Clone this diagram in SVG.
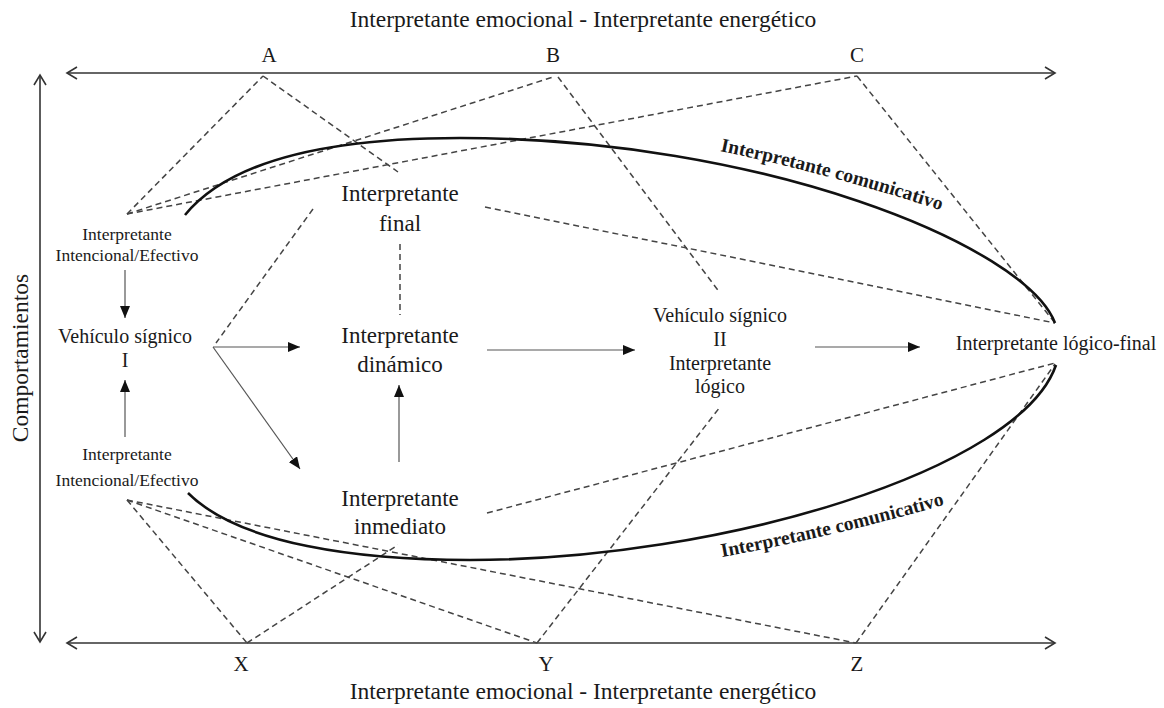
<svg xmlns="http://www.w3.org/2000/svg" xmlns:xlink="http://www.w3.org/1999/xlink" width="1164" height="708" viewBox="0 0 1164 708">
<style>
text{font-family:"Liberation Serif","Times New Roman",serif;fill:#1a1a1a;}
.big{font-size:23px;}
.ttl{font-size:23.5px;}
.mid{font-size:20px;}
.sm{font-size:17.5px;}
.lbl{font-size:21px;}
.bold{font-size:19.5px;font-weight:bold;}
.axis{stroke:#333;stroke-width:1.6;fill:none;}
.dash{stroke:#444;stroke-width:1.5;stroke-dasharray:6 4;fill:none;}
.arr{stroke:#555;stroke-width:1.2;fill:none;marker-end:url(#tri);}
.curve{stroke:#111;stroke-width:2.6;fill:none;}
</style>
<defs>
<marker id="tri" markerWidth="12" markerHeight="10" refX="12" refY="5" orient="auto" markerUnits="userSpaceOnUse">
<path d="M0,0 L12,5 L0,10 Z" fill="#111"/>
</marker>
<marker id="chev" markerWidth="14" markerHeight="14" refX="11" refY="7" orient="auto-start-reverse" markerUnits="userSpaceOnUse">
<path d="M1,1 L11,7 L1,13" fill="none" stroke="#333" stroke-width="1.6"/>
</marker>
<path id="tp1" d="M720,151 Q835,175 952,214"/>
<path id="tp2" d="M722,557 Q837,536 954,502"/>
</defs>
<rect width="1164" height="708" fill="#fff"/>

<g id="axes">
<line class="axis" x1="67" y1="73" x2="1055" y2="73" marker-start="url(#chev)" marker-end="url(#chev)"/>
<line class="axis" x1="67" y1="643" x2="1055" y2="643" marker-start="url(#chev)" marker-end="url(#chev)"/>
<line class="axis" x1="40" y1="75" x2="40" y2="642" marker-start="url(#chev)" marker-end="url(#chev)"/>
</g>

<g id="connectors">
<line class="dash" x1="127" y1="214" x2="263" y2="76"/>
<line class="dash" x1="127" y1="214" x2="553" y2="77"/>
<line class="dash" x1="127" y1="214" x2="857" y2="76"/>
<line class="dash" x1="263" y1="76" x2="398" y2="172"/>
<line class="dash" x1="558" y1="77" x2="720" y2="293"/>
<line class="dash" x1="857" y1="76" x2="1055" y2="323"/>
<line class="dash" x1="485" y1="207" x2="1055" y2="323"/>
<line class="dash" x1="313" y1="209" x2="216" y2="343"/>
<line class="dash" x1="400" y1="244" x2="400" y2="315"/>
<line class="dash" x1="127" y1="500" x2="247" y2="643"/>
<line class="dash" x1="127" y1="500" x2="537" y2="643"/>
<line class="dash" x1="127" y1="500" x2="856" y2="643"/>
<line class="dash" x1="247" y1="643" x2="398" y2="545"/>
<line class="dash" x1="537" y1="643" x2="720" y2="407"/>
<line class="dash" x1="856" y1="643" x2="1055" y2="364"/>
<line class="dash" x1="487" y1="513" x2="1055" y2="363"/>
<line class="arr" x1="125" y1="270" x2="125" y2="318"/>
<line class="arr" x1="125" y1="437" x2="125" y2="380"/>
<line class="arr" x1="213" y1="347" x2="300" y2="347"/>
<line class="arr" x1="213" y1="347" x2="300" y2="469"/>
<line class="arr" x1="399" y1="462" x2="399" y2="385"/>
<line class="arr" x1="487" y1="350" x2="635" y2="350"/>
<line class="arr" x1="815" y1="347" x2="920" y2="347"/>
<path class="curve" d="M185,215 C230,160 330,138 460,138 C760,138 1025,245 1055,323"/>
<path class="curve" d="M188,493 C240,545 360,560 470,560 C720,560 1020,470 1056,365"/>
</g>

<g id="titles">
<text class="ttl" x="583" y="27" text-anchor="middle">Interpretante emocional - Interpretante energético</text>
<text class="ttl" x="583" y="699" text-anchor="middle">Interpretante emocional - Interpretante energético</text>
<text class="ttl" transform="translate(28,358) rotate(-90)" text-anchor="middle">Comportamientos</text>
</g>

<g id="points">
<text class="lbl" x="269" y="62" text-anchor="middle">A</text>
<text class="lbl" x="553" y="62" text-anchor="middle">B</text>
<text class="lbl" x="857" y="62" text-anchor="middle">C</text>
<text class="lbl" x="241" y="671" text-anchor="middle">X</text>
<text class="lbl" x="546" y="671" text-anchor="middle">Y</text>
<text class="lbl" x="857" y="671" text-anchor="middle">Z</text>
</g>

<g id="node-intencional-top">
<text class="sm" x="127" y="240" text-anchor="middle">Interpretante</text>
<text class="sm" x="127" y="261" text-anchor="middle">Intencional/Efectivo</text>
</g>
<g id="node-vehiculo-1">
<text class="mid" x="125" y="343" text-anchor="middle">Vehículo sígnico</text>
<text class="mid" x="125" y="367" text-anchor="middle">I</text>
</g>
<g id="node-intencional-bottom">
<text class="sm" x="127" y="460" text-anchor="middle">Interpretante</text>
<text class="sm" x="127" y="486" text-anchor="middle">Intencional/Efectivo</text>
</g>
<g id="node-final">
<text class="big" x="400" y="201" text-anchor="middle">Interpretante</text>
<text class="big" x="400" y="231" text-anchor="middle">final</text>
</g>
<g id="node-dinamico">
<text class="big" x="400" y="343" text-anchor="middle">Interpretante</text>
<text class="big" x="400" y="372" text-anchor="middle">dinámico</text>
</g>
<g id="node-inmediato">
<text class="big" x="400" y="506" text-anchor="middle">Interpretante</text>
<text class="big" x="400" y="534" text-anchor="middle">inmediato</text>
</g>
<g id="node-vehiculo-2">
<text class="mid" x="720" y="322" text-anchor="middle">Vehículo sígnico</text>
<text class="mid" x="720" y="346" text-anchor="middle">II</text>
<text class="mid" x="720" y="370" text-anchor="middle">Interpretante</text>
<text class="mid" x="720" y="393" text-anchor="middle">lógico</text>
</g>
<g id="node-logico-final">
<text class="mid" x="1056" y="350" text-anchor="middle">Interpretante lógico-final</text>
</g>
<g id="labels">
<text class="bold"><textPath xlink:href="#tp1" href="#tp1">Interpretante comunicativo</textPath></text>
<text class="bold"><textPath xlink:href="#tp2" href="#tp2">Interpretante comunicativo</textPath></text>
</g>
</svg>
